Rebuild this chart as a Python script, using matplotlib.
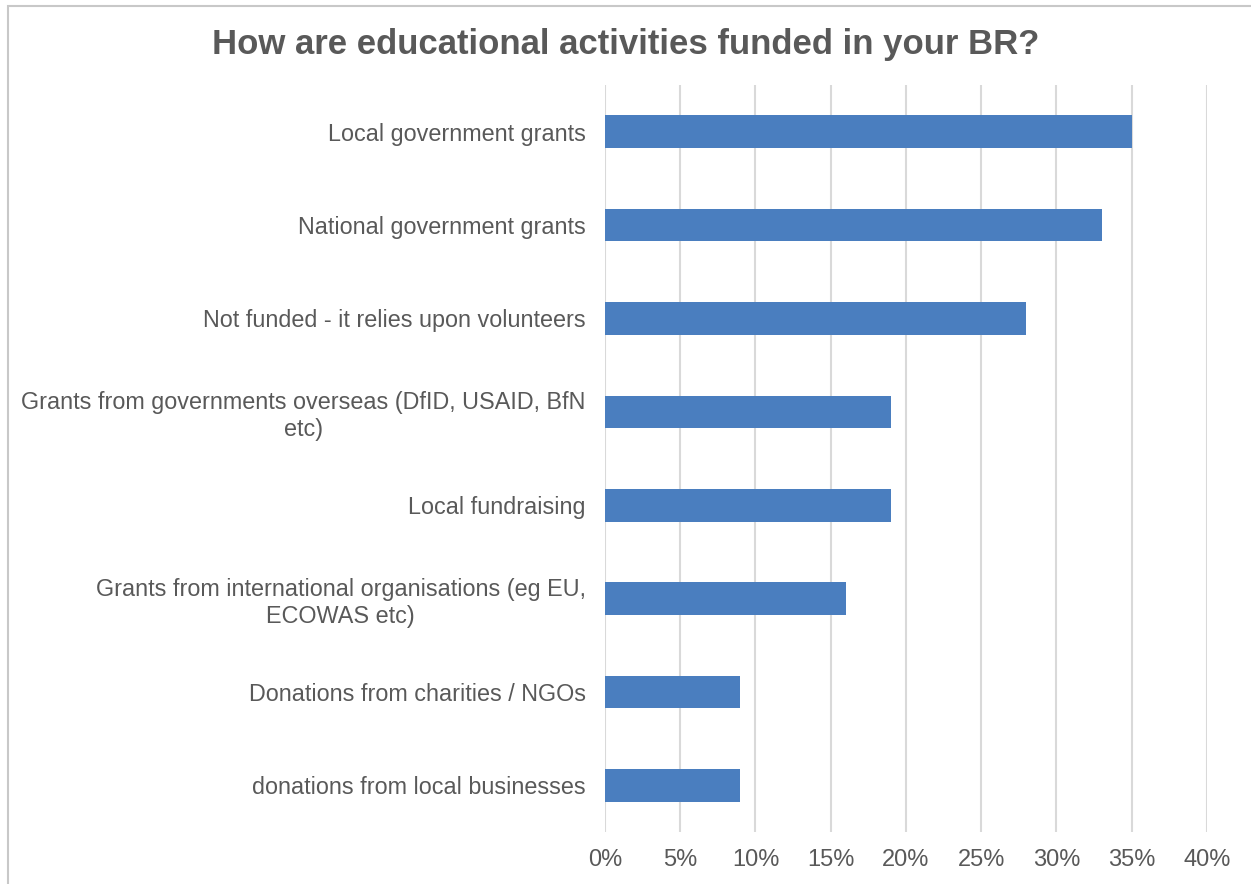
import matplotlib.pyplot as plt
from matplotlib.patches import Rectangle
from matplotlib.ticker import FuncFormatter

plt.rcParams['font.family'] = ['Liberation Sans', 'DejaVu Sans']

# Survey answers (top to bottom as displayed)
categories = [
    'Local government grants',
    'National government grants',
    'Not funded - it relies upon volunteers',
    'Grants from governments overseas (DfID, USAID, BfN\netc)',
    'Local fundraising',
    'Grants from international organisations (eg EU,\nECOWAS etc)',
    'Donations from charities / NGOs',
    'donations from local businesses',
]
shares = [35, 33, 28, 19, 19, 16, 9, 9]
x_ticks = [0, 5, 10, 15, 20, 25, 30, 35, 40]

text_color = '#595959'
bar_color = '#4a7ebf'
grid_color = '#d9d9d9'

fig = plt.figure(figsize=(12.51, 8.84), dpi=100)
ax = fig.add_axes([0.4836, 0.0588, 0.4812, 0.845])

y = list(range(len(categories)))
ax.barh(y, shares, height=0.35, color=bar_color, zorder=3)
ax.set_yticks(y)
ax.set_yticklabels(categories, fontsize=16.8, color=text_color,
                   multialignment='center')
ax.set_ylim(len(categories) - 0.5, -0.5)

ax.set_xlim(0, 40)
ax.set_xticks(x_ticks)
ax.xaxis.set_major_formatter(FuncFormatter(lambda v, p: f'{v:.0f}%'))
ax.tick_params(axis='x', labelsize=17, labelcolor=text_color, length=0, pad=12)
ax.tick_params(axis='y', length=0, pad=14)
ax.grid(axis='x', color=grid_color, linewidth=1.5, zorder=0)
for s in ax.spines.values():
    s.set_visible(False)

fig.text(0.5, 0.950, 'How are educational activities funded in your BR?',
         ha='center', va='center', fontsize=25, fontweight='bold', color=text_color)

# light outer frame of the chart area
fig.patches.append(Rectangle((8 / 1251, -0.05), 1.1, 1 - 6 / 884 + 0.05,
                             transform=fig.transFigure, fill=False,
                             edgecolor='#c8c8c8', linewidth=1.5))

fig.savefig('out.png', dpi=100, facecolor='white')
